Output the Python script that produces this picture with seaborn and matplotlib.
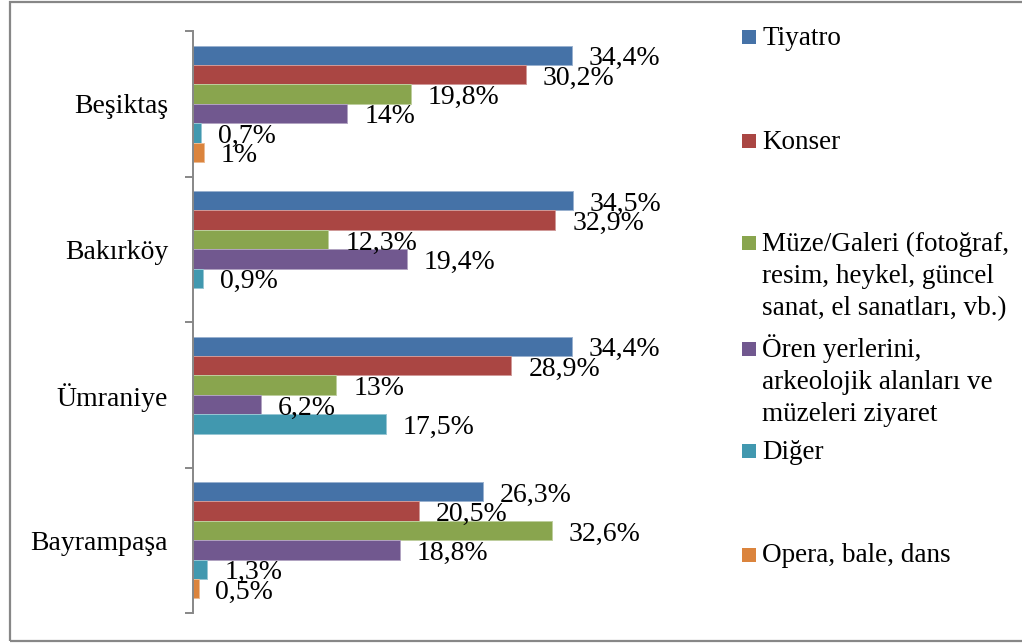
import numpy as np
import pandas as pd
import matplotlib
matplotlib.use("Agg")
import matplotlib.pyplot as plt
from matplotlib.patches import Rectangle
from matplotlib.colors import to_rgb
import seaborn as sns

# Districts (top to bottom) and activity series
districts = ["Beşiktaş", "Bakırköy", "Ümraniye", "Bayrampaşa"]
activities = [
    "Tiyatro",
    "Konser",
    "Müze/Galeri (fotoğraf,\nresim, heykel, güncel\nsanat, el sanatları, vb.)",
    "Ören yerlerini,\narkeolojik alanları ve\nmüzeleri ziyaret",
    "Diğer",
    "Opera, bale, dans",
]

# Share of respondents (%) per district
tiyatro = [34.4, 34.5, 34.4, 26.3]
konser = [30.2, 32.9, 28.9, 20.5]
muze = [19.8, 12.3, 13.0, 32.6]
oren = [14.0, 19.4, 6.2, 18.8]
diger = [0.7, 0.9, 17.5, 1.3]
opera = [1.0, np.nan, np.nan, 0.5]

colors = ["#4572A7", "#AA4643", "#89A54E", "#71588F", "#4198AF", "#DB843D"]

series = [tiyatro, konser, muze, oren, diger, opera]
df = pd.DataFrame(
    [(d, a, v) for a, vals in zip(activities, series) for d, v in zip(districts, vals)],
    columns=["district", "activity", "value"],
).dropna()

W, H = 1022, 643
sns.set_theme(style="white")
plt.rcParams["font.family"] = ["Liberation Serif", "DejaVu Serif"]
FS = 20
FS_LEG = 19.5

fig = plt.figure(figsize=(W / 100, H / 100), dpi=100)
ax = fig.add_axes([193 / W, (H - 613) / H, 440.6 / W, 582 / H])

sns.barplot(
    data=df, y="district", x="value", hue="activity",
    order=districts, hue_order=activities, palette=colors,
    orient="h", width=0.8, saturation=1, errorbar=None,
    legend=False, ax=ax,
)

# thin, lighter outline around each bar
for cont in ax.containers:
    for p in cont:
        fc = np.array(to_rgb(p.get_facecolor()))
        p.set_edgecolor(tuple(fc + (1 - fc) * 0.45))
        p.set_linewidth(0.7)

ax.set_xlim(0, 40)
ax.set_ylim(3.5, -0.5)
ax.set_xlabel("")
ax.set_ylabel("")
ax.set_xticks([])

for s in ["top", "right", "bottom"]:
    ax.spines[s].set_visible(False)
ax.spines["left"].set_color("#878787")
ax.spines["left"].set_linewidth(1.4)

ax.set_yticks(range(len(districts)))
ax.set_yticklabels(districts, fontsize=FS, color="black")
ax.tick_params(axis="y", which="major", length=0, pad=18)
ax.set_yticks(np.arange(-0.5, len(districts), 1.0), minor=True)
ax.tick_params(axis="y", which="minor", left=True, length=6, width=1.4,
               color="#878787", direction="out")

# value labels beyond the bar ends
for cont in ax.containers:
    for p in cont:
        w = p.get_width()
        if np.isnan(w):
            continue
        yc = p.get_y() + p.get_height() / 2
        txt = f"{w:g}".replace(".", ",") + "%"
        ax.annotate(txt, xy=(w, yc), xytext=(12.2, -7.2),
                    textcoords="offset points", ha="left", va="baseline",
                    fontsize=FS, color="black", annotation_clip=False)

# legend on the right: square key, then the label lines
legend_y = [37, 141, 243, 349, 451, 554.5]
line_step = 32
for name, col, yc in zip(activities, colors, legend_y):
    fig.patches.append(Rectangle((742 / W, 1 - (yc + 7) / H), 14 / W, 14 / H,
                                 transform=fig.transFigure, facecolor=col,
                                 edgecolor="none"))
    for k, line in enumerate(name.split("\n")):
        fig.text(762 / W, 1 - (yc + 8 + k * line_step) / H, line,
                 ha="left", va="baseline", fontsize=FS_LEG, color="black")

# chart frame
fig.patches.append(Rectangle((10 / W, 2 / H), 1.05, 639 / H,
                             transform=fig.transFigure, facecolor="none",
                             edgecolor="#878787", linewidth=1.6))

fig.savefig("out.png", dpi=100, facecolor="white")
